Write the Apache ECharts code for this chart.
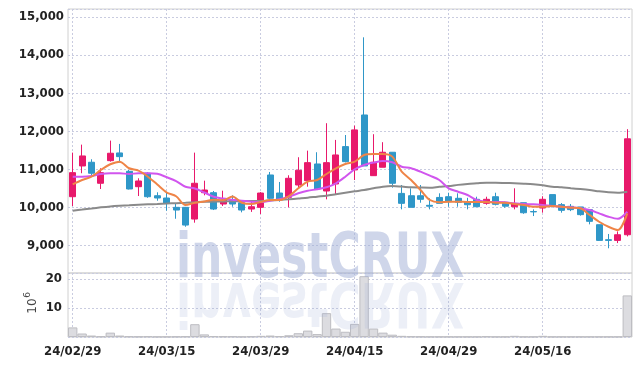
<!DOCTYPE html>
<html>
<head>
<meta charset="utf-8">
<script src="https://cdn.jsdelivr.net/npm/echarts@6/dist/echarts.min.js"></script>
<style>
  html, body { margin: 0; padding: 0; background: #fff; }
  #chart { width: 642px; height: 366px; }
</style>
</head>
<body>
<div id="chart"></div>
<script>
// 일봉 데이터 (24/02/29 ~ 24/05/29)
const dates = [
  '24/02/29', '24/03/04', '24/03/05', '24/03/06', '24/03/07', '24/03/08', '24/03/11', '24/03/12', '24/03/13', '24/03/14',
  '24/03/15', '24/03/18', '24/03/19', '24/03/20', '24/03/21', '24/03/22', '24/03/25', '24/03/26', '24/03/27', '24/03/28',
  '24/03/29', '24/04/01', '24/04/02', '24/04/03', '24/04/04', '24/04/05', '24/04/08', '24/04/09', '24/04/11', '24/04/12',
  '24/04/15', '24/04/16', '24/04/17', '24/04/18', '24/04/19', '24/04/22', '24/04/23', '24/04/24', '24/04/25', '24/04/26',
  '24/04/29', '24/04/30', '24/05/02', '24/05/03', '24/05/07', '24/05/08', '24/05/09', '24/05/10', '24/05/13', '24/05/14',
  '24/05/16', '24/05/17', '24/05/20', '24/05/21', '24/05/22', '24/05/23', '24/05/24', '24/05/27', '24/05/28', '24/05/29'
]
const openP = [
  10279, 11087, 11184, 10632, 11226, 11429, 10947, 10542, 10895, 10305,
  10245, 10000, 10000, 9692, 10384, 10384, 10087, 10192, 10121, 9955,
  10000, 10850, 10376, 10263, 10587, 10700, 11139, 10429, 10613, 11595,
  10982, 12426, 10832, 11053, 11447, 10366, 10305, 10305, 10053, 10260,
  10279, 10237, 10147, 10211, 10105, 10279, 10130, 10016, 10121, 9890,
  9982, 10334, 10071, 10026, 10010, 9939, 9544, 9150, 9132, 9280
]
const closeP = [
  10911, 11350, 10895, 10911, 11421, 11332, 10482, 10692, 10279, 10245,
  10105, 9929, 9534, 10632, 10455, 9955, 10192, 10087, 9929, 10016,
  10376, 10237, 10211, 10763, 10974, 11174, 10482, 11174, 11376, 11200,
  12034, 11087, 11184, 11447, 10632, 10105, 10000, 10211, 10030, 10105,
  10147, 10132, 10068, 10016, 10211, 10079, 10030, 10087, 9858, 9880,
  10211, 10045, 9921, 9939, 9808, 9632, 9132, 9132, 9280, 11800
]
const lowP = [
  10034, 10895, 10850, 10482, 11200, 11174, 10470, 10297, 10250, 10174,
  9911, 9700, 9490, 9597, 10316, 9929, 10034, 10016, 9868, 9880,
  9824, 10192, 10147, 10000, 10482, 10542, 10455, 10210, 10342, 11180,
  10718, 11087, 10832, 11053, 10516, 9947, 10000, 10121, 9947, 10105,
  10016, 10016, 9947, 10016, 10068, 10050, 9990, 9947, 9830, 9771,
  9860, 10000, 9860, 9900, 9781, 9553, 9120, 8924, 9061, 9237
]
const highP = [
  11437, 11647, 11263, 11026, 11753, 11666, 10980, 10763, 10920, 10395,
  10403, 10105, 10010, 11437, 10700, 10429, 10437, 10316, 10140, 10140,
  10400, 10929, 10666, 10842, 11316, 11489, 11447, 12210, 11771, 11900,
  12147, 14466, 11921, 11711, 11447, 10587, 10500, 10587, 10237, 10368,
  10384, 10368, 10250, 10279, 10279, 10384, 10147, 10500, 10121, 9947,
  10290, 10334, 10113, 10087, 10010, 9939, 9544, 9300, 9368, 12053
]
// 이동평균선
const ma5 = [
  10605, 10718, 10805, 10982, 11132, 11200, 11026, 10963, 10805, 10600,
  10390, 10290, 10060, 10121, 10155, 10200, 10185, 10285, 10121, 10087,
  10140, 10192, 10192, 10297, 10500, 10674, 10718, 10876, 11026, 11140,
  11200, 11376, 11403, 11403, 11332, 10937, 10718, 10455, 10192, 10132,
  10147, 10147, 10140, 10140, 10140, 10121, 10121, 10087, 10060, 10016,
  10016, 10034, 10016, 9990, 9974, 9797, 9621, 9489, 9403, 9842
]
const ma20 = [
  10805, 10805, 10824, 10876, 10895, 10895, 10876, 10895, 10895, 10880,
  10790, 10690, 10540, 10495, 10390, 10279, 10230, 10200, 10170, 10147,
  10140, 10174, 10211, 10279, 10368, 10437, 10474, 10526, 10632, 10805,
  11000, 11113, 11174, 11218, 11184, 11068, 11026, 10937, 10832, 10718,
  10500, 10411, 10324, 10192, 10147, 10140, 10132, 10105, 10087, 10079,
  10060, 10034, 10016, 10000, 9974, 9929, 9842, 9753, 9700, 9884
]
const ma60 = [
  9911, 9940, 9970, 10000, 10025, 10042, 10055, 10068, 10078, 10087,
  10098, 10110, 10120, 10132, 10147, 10150, 10155, 10158, 10162, 10164,
  10166, 10180, 10195, 10211, 10232, 10253, 10280, 10305, 10345, 10384,
  10420, 10455, 10500, 10542, 10560, 10545, 10526, 10520, 10516, 10540,
  10560, 10590, 10613, 10630, 10647, 10647, 10640, 10632, 10620, 10605,
  10580, 10542, 10525, 10500, 10480, 10455, 10420, 10395, 10384, 10411
]
// 거래량 (단위 10^6)
const volume = [
  3.3, 1.2, 0.5, 0.2, 1.5, 0.5, 0.2, 0.15, 0.2, 0.1,
  0.1, 0.15, 0.2, 4.4, 0.9, 0.3, 0.2, 0.2, 0.1, 0.2,
  0.4, 0.5, 0.3, 0.6, 1.3, 2.2, 1.0, 8.2, 2.9, 1.8,
  4.5, 20.9, 2.9, 1.5, 0.8, 0.4, 0.2, 0.15, 0.1, 0.1,
  0.1, 0.1, 0.1, 0.1, 0.2, 0.1, 0.1, 0.4, 0.1, 0.1,
  0.4, 0.1, 0.1, 0.1, 0.1, 0.1, 0.1, 0.1, 0.1, 14.3
]

const labelFont = "'DejaVu Sans Condensed', 'DejaVu Sans', sans-serif"
const markFont = "bold 62px 'DejaVu Sans Condensed', 'DejaVu Sans', sans-serif"
const gridLine = { type: [2, 2], color: '#c9cce0', width: 1 }
const axisText = {
  color: '#222',
  fontFamily: labelFont,
  fontWeight: 'bold',
  fontSize: 13
}

let kData = dates.map((d, i) => [openP[i], closeP[i], lowP[i], highP[i]])

let myChart = echarts.init(document.getElementById('chart'))
let option = {
  animation: false,
  grid: [
    { left: 68, right: 10, top: 9, height: 264, show: true, borderColor: '#d0d0d0', borderWidth: 1 },
    { left: 68, right: 10, top: 273, height: 64, show: true, borderColor: '#d0d0d0', borderWidth: 1 }
  ],
  xAxis: [
    {
      type: 'category',
      gridIndex: 0,
      data: dates,
      boundaryGap: true,
      axisLine: { show: false },
      axisTick: { show: false },
      axisLabel: { show: false },
      splitLine: { show: true, interval: 9, alignWithLabel: true, lineStyle: gridLine }
    },
    {
      type: 'category',
      gridIndex: 1,
      data: dates,
      boundaryGap: true,
      axisLine: { show: false },
      axisTick: { show: false },
      axisLabel: Object.assign({ interval: 9, margin: 8 }, axisText),
      splitLine: { show: true, interval: 9, alignWithLabel: true, lineStyle: gridLine }
    }
  ],
  yAxis: [
    {
      type: 'value',
      gridIndex: 0,
      min: 8275,
      max: 15210,
      splitNumber: 7,
      axisLine: { show: false },
      axisTick: { show: false },
      axisLabel: Object.assign({
        showMinLabel: false,
        showMaxLabel: false,
        margin: 4,
        formatter: v => v.toLocaleString('en-US')
      }, axisText),
      splitLine: { lineStyle: gridLine }
    },
    {
      type: 'value',
      gridIndex: 1,
      min: 0,
      max: 22,
      interval: 10,
      axisLine: { show: false },
      axisTick: { show: false },
      axisLabel: Object.assign({ showMinLabel: false, showMaxLabel: false, margin: 6 }, axisText),
      splitLine: { lineStyle: gridLine }
    }
  ],
  graphic: [
    {
      // 워터마크
      type: 'text',
      x: 176,
      y: 292,
      scaleX: 0.79,
      z: 100,
      silent: true,
      style: {
        text: 'investCRUX',
        font: markFont,
        fill: 'rgba(160,174,214,0.5)',
        align: 'left',
        verticalAlign: 'bottom'
      }
    },
    {
      // 워터마크 반사
      type: 'text',
      x: 176,
      y: 268,
      scaleX: 0.79,
      scaleY: -1,
      z: 100,
      silent: true,
      style: {
        text: 'investCRUX',
        font: markFont,
        fill: 'rgba(160,174,214,0.2)',
        align: 'left',
        verticalAlign: 'bottom'
      }
    },
    {
      type: 'text',
      x: 33,
      y: 306,
      rotation: Math.PI / 2,
      style: { text: '10', font: "12px 'DejaVu Sans', sans-serif", fill: '#444', align: 'center', verticalAlign: 'middle' }
    },
    {
      type: 'text',
      x: 28,
      y: 295,
      rotation: Math.PI / 2,
      style: { text: '6', font: "9px 'DejaVu Sans', sans-serif", fill: '#444', align: 'center', verticalAlign: 'middle' }
    }
  ],
  series: [
    {
      type: 'candlestick',
      xAxisIndex: 0,
      yAxisIndex: 0,
      barWidth: '68%',
      itemStyle: {
        color: '#e8196b',
        color0: '#2f97c8',
        borderColor: '#e8196b',
        borderColor0: '#2f97c8',
        borderWidth: 1
      },
      data: kData
    },
    {
      type: 'line',
      xAxisIndex: 0,
      yAxisIndex: 0,
      data: ma60,
      symbol: 'none',
      smooth: 0.3,
      lineStyle: { color: '#8a8a8a', width: 2 }
    },
    {
      type: 'line',
      xAxisIndex: 0,
      yAxisIndex: 0,
      data: ma20,
      symbol: 'none',
      smooth: 0.3,
      lineStyle: { color: '#d155ee', width: 2 }
    },
    {
      type: 'line',
      xAxisIndex: 0,
      yAxisIndex: 0,
      data: ma5,
      symbol: 'none',
      smooth: 0.3,
      lineStyle: { color: '#ef8447', width: 2 }
    },
    {
      type: 'bar',
      xAxisIndex: 1,
      yAxisIndex: 1,
      barCategoryGap: '0%',
      itemStyle: { color: '#dcdce0', borderColor: '#bdbdc2', borderWidth: 1 },
      data: volume
    }
  ]
}
myChart.setOption(option)
</script>
</body>
</html>
